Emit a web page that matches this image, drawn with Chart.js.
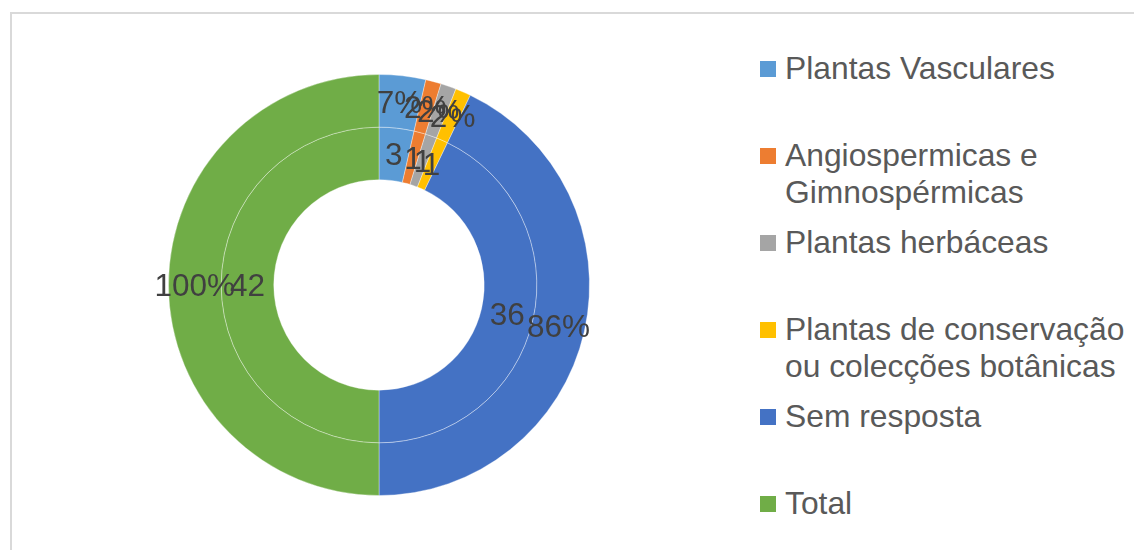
<!DOCTYPE html>
<html>
<head>
<meta charset="utf-8">
<script src="https://cdn.jsdelivr.net/npm/chart.js@4"></script>
<style>
  html, body { margin: 0; padding: 0; background: #fff; width: 1134px; height: 550px; overflow: hidden; }
  #frame { position: absolute; left: 10px; top: 12px; width: 1300px; height: 700px; border: 2px solid #d9d9d9; box-sizing: border-box; }
  #chartWrap { position: absolute; left: 0px; top: 54px; width: 758px; height: 462px; }
  #legend { position: absolute; left: 760px; top: 50px; width: 374px; font-family: "Liberation Sans", Arial, sans-serif; font-size: 31.8px; line-height: 36.6px; color: #595959; }
  .item { position: relative; height: 87px; padding-left: 25px; width: 350px; }
  .box { position: absolute; left: 0; top: 10.5px; width: 16px; height: 16px; }
</style>
</head>
<body>
<div id="frame"></div>
<div id="chartWrap"><canvas id="c"></canvas></div>
<div id="legend"></div>
<script>
const categories = ["Plantas Vasculares", "Angiospermicas e Gimnospérmicas", "Plantas herbáceas", "Plantas de conservação ou colecções botânicas", "Sem resposta", "Total"];
const percentValues = [7.14, 2.38, 2.38, 2.38, 85.71, 100];
const countValues = [3, 1, 1, 1, 36, 42];
const colors = ["#5B9BD5", "#ED7D31", "#A5A5A5", "#FFC000", "#4472C4", "#70AD47"];

const labelPlugin = {
  id: 'valueLabels',
  afterDatasetsDraw(chart) {
    const ctx = chart.ctx;
    ctx.save();
    ctx.font = '31.5px "Liberation Sans", Arial, sans-serif';
    ctx.fillStyle = '#404040';
    ctx.textAlign = 'center';
    ctx.textBaseline = 'middle';
    chart.data.datasets.forEach((ds, di) => {
      const meta = chart.getDatasetMeta(di);
      meta.data.forEach((arc, i) => {
        const p = arc.tooltipPosition();
        const v = ds.data[i];
        const txt = ds.suffix ? Math.round(v) + ds.suffix : String(v);
        ctx.fillText(txt, p.x, p.y + 2);
      });
    });
    ctx.restore();
  }
};

new Chart(document.getElementById('c'), {
  type: 'doughnut',
  data: {
    labels: categories,
    datasets: [
      { data: percentValues, suffix: '%', backgroundColor: colors, borderColor: 'rgba(255,255,255,0.35)', borderWidth: 1 },
      { data: countValues, backgroundColor: colors, borderColor: 'rgba(255,255,255,0.35)', borderWidth: 1 }
    ]
  },
  options: {
    responsive: true,
    maintainAspectRatio: false,
    animation: false,
    cutout: '50%',
    layout: { padding: { top: 20, bottom: 20, left: 0, right: 0 } },
    plugins: { legend: { display: false }, tooltip: { enabled: false } }
  },
  plugins: [labelPlugin]
});

const legend = document.getElementById('legend');
categories.forEach((name, i) => {
  const item = document.createElement('div');
  item.className = 'item';
  const box = document.createElement('div');
  box.className = 'box';
  box.style.background = colors[i];
  item.appendChild(box);
  const txt = document.createElement('span');
  txt.textContent = name;
  item.appendChild(txt);
  legend.appendChild(item);
});
</script>
</body>
</html>
